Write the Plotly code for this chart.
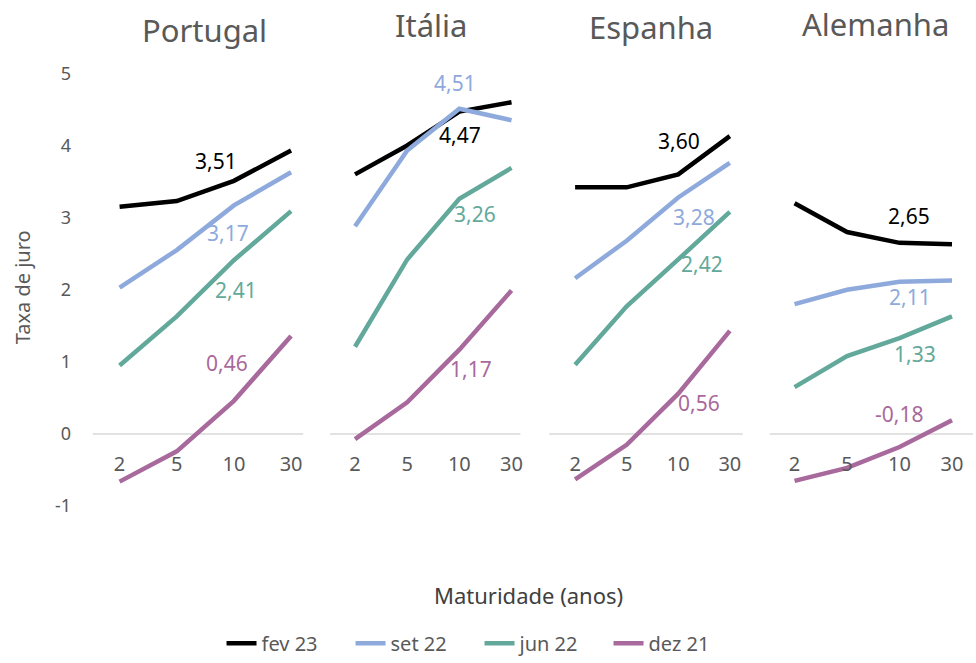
import plotly.graph_objects as go

# Government bond yields by maturity (%)
countries = ["Portugal", "Itália", "Espanha", "Alemanha"]
maturities = ["2", "5", "10", "30"]
series_names = ["fev 23", "set 22", "jun 22", "dez 21"]

portugal = {
    "fev 23": [3.15, 3.23, 3.51, 3.93],
    "set 22": [2.03, 2.55, 3.17, 3.63],
    "jun 22": [0.95, 1.63, 2.41, 3.09],
    "dez 21": [-0.66, -0.24, 0.46, 1.36],
}
italia = {
    "fev 23": [3.60, 4.00, 4.47, 4.60],
    "set 22": [2.88, 3.93, 4.51, 4.35],
    "jun 22": [1.21, 2.42, 3.26, 3.69],
    "dez 21": [-0.07, 0.44, 1.17, 1.99],
}
espanha = {
    "fev 23": [3.42, 3.42, 3.60, 4.13],
    "set 22": [2.16, 2.68, 3.28, 3.76],
    "jun 22": [0.96, 1.77, 2.42, 3.08],
    "dez 21": [-0.63, -0.15, 0.56, 1.43],
}
alemanha = {
    "fev 23": [3.20, 2.80, 2.65, 2.63],
    "set 22": [1.80, 2.00, 2.11, 2.13],
    "jun 22": [0.65, 1.08, 1.33, 1.63],
    "dez 21": [-0.65, -0.47, -0.18, 0.19],
}
panels = [portugal, italia, espanha, alemanha]

y_ticks = [-1, 0, 1, 2, 3, 4, 5]
y_tick_text = ["-1", "0", "1", "2", "3", "4", "5"]

colors = {
    "fev 23": "#000000",
    "set 22": "#8eaadc",
    "jun 22": "#63a99b",
    "dez 21": "#a8699c",
}

# layout geometry (pixels in a 976x663 page)
W, H = 976, 663
x_domains_px = [(93, 304), (331, 522), (551, 745), (772, 976)]
x_ranges = [(-0.47, 3.21), (-0.48, 3.17), (-0.5, 3.25), (-0.475, 3.4)]
title_pos_px = [(205, 30), (432, 25), (653, 27), (878, 24)]
y_range = (-1.3, 5.3)
zero_px = 438
y_dom = ((H - 532.6) / H, (H - 52.2) / H)

# value labels sit on the 10-year point (category index 2)
label_idx = 2
# label offsets (xshift, yshift) per panel and series
label_offsets = [
    {"fev 23": (-18, 20), "set 22": (-6, -28), "jun 22": (2, -30), "dez 21": (-7, 38)},
    {"fev 23": (1, -23), "set 22": (-4, 26), "jun 22": (16, -15), "dez 21": (12, -19)},
    {"fev 23": (1, 33), "set 22": (16, -20), "jun 22": (24, -5), "dez 21": (21, -9)},
    {"fev 23": (9, 27), "set 22": (10, -15), "jun 22": (15, -16), "dez 21": (-1, 33)},
]

FONT = "Noto Sans"
GRAY = "#595959"

fig = go.Figure()
annotations = []
shapes = []

for i, (name, data) in enumerate(zip(countries, panels)):
    ax = "" if i == 0 else str(i + 1)
    for s in series_names:
        fig.add_trace(go.Scatter(
            x=maturities, y=data[s], mode="lines", name=s,
            line=dict(color=colors[s], width=4.5),
            xaxis="x" + ax, yaxis="y" + ax,
            showlegend=(i == 0), legendgroup=s,
        ))
        dx, dy = label_offsets[i][s]
        v = data[s][label_idx]
        annotations.append(dict(
            x=label_idx, y=v, xref="x" + ax, yref="y" + ax, showarrow=False,
            text=f"{v:.2f}".replace(".", ","), xshift=dx, yshift=dy,
            font=dict(family=FONT, size=21, color=colors[s]),
        ))
    # zero line across each panel
    shapes.append(dict(
        type="line", xref=f"x{ax} domain", yref="y" + ax,
        x0=0, x1=1, y0=0, y1=0, line=dict(color="#d9d9d9", width=1.5),
        layer="below",
    ))
    tx, ty = title_pos_px[i]
    annotations.append(dict(
        x=tx / W, y=1 - ty / H, xref="paper", yref="paper", showarrow=False,
        text=name, font=dict(family=FONT, size=31, color=GRAY),
        xanchor="center", yanchor="middle",
    ))

    d0, d1 = x_domains_px[i]
    fig.layout["xaxis" + ax] = dict(
        domain=[d0 / W, d1 / W], type="category", range=list(x_ranges[i]),
        anchor="free", position=(H - zero_px) / H,
        showgrid=False, zeroline=False, showline=False,
        ticks="outside", ticklen=12, tickcolor="rgba(0,0,0,0)",
        tickfont=dict(family=FONT, size=20, color=GRAY),
        fixedrange=True,
    )
    fig.layout["yaxis" + ax] = dict(
        domain=list(y_dom), range=list(y_range), anchor="x" + ax,
        showgrid=False, zeroline=False, showline=False,
        tickvals=y_ticks, ticktext=y_tick_text, showticklabels=(i == 0),
        ticks="outside" if i == 0 else "", ticklen=17, tickcolor="rgba(0,0,0,0)",
        tickfont=dict(family=FONT, size=18, color=GRAY),
        fixedrange=True,
    )

annotations.append(dict(
    x=22 / W, y=1 - 290 / H, xref="paper", yref="paper", showarrow=False,
    text="Taxa de juro", textangle=-90, xanchor="center", yanchor="middle",
    font=dict(family=FONT, size=20, color=GRAY),
))
annotations.append(dict(
    x=530 / W, y=1 - 600 / H, xref="paper", yref="paper", showarrow=False,
    text="Maturidade (anos)", xanchor="center", yanchor="middle",
    font=dict(family=FONT, size=22, color="#404040"),
))

fig.update_layout(
    width=W, height=H,
    margin=dict(l=0, r=0, t=0, b=0),
    paper_bgcolor="white", plot_bgcolor="white",
    annotations=annotations, shapes=shapes,
    legend=dict(
        orientation="h", x=481 / W, xanchor="center",
        y=1 - 649 / H, yanchor="middle",
        font=dict(family=FONT, size=20, color=GRAY),
        entrywidth=84, entrywidthmode="pixels",
        itemclick=False, itemdoubleclick=False,
    ),
)

fig.write_html("out.html", config={"displayModeBar": False})
